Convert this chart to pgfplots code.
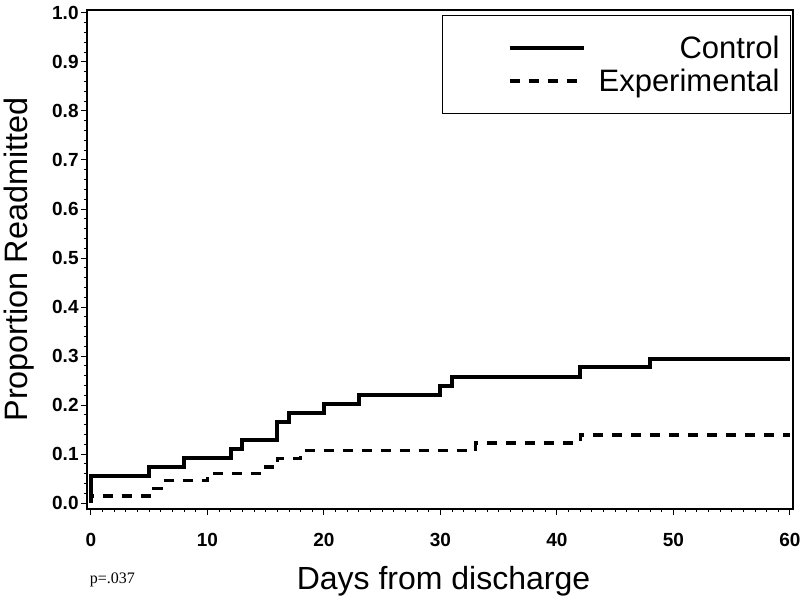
\documentclass[border=0pt]{standalone}
\usepackage{pgfplots}
\pgfplotsset{compat=1.18}
\usepackage{pgfplotstable}
\usepackage{fontspec}
\setmainfont{Liberation Sans}
\newfontfamily\serifp{Liberation Serif}

\pgfplotstableread{
day prop
0 0
0 0.055
5 0.073
8 0.0925
12 0.110
13 0.129
16 0.165
17 0.184
20 0.203
23 0.220
30 0.239
31 0.2565
42 0.277
48 0.293
60 0.293
}\control

\pgfplotstableread{
day prop
0 0
0 0.0143
5 0.030
6 0.0456
10 0.0605
15 0.074
16 0.091
18 0.107
33 0.123
42 0.139
60 0.139
}\experimental

\begin{document}
\begin{tikzpicture}
\begin{axis}[
  name=ax,
  scale only axis,
  width=353pt, height=249.5pt,
  xmin=-0.34, xmax=60.26,
  ymin=-0.012, ymax=1.006,
  xtick={0,10,20,30,40,50,60},
  ytick={0,0.1,0.2,0.3,0.4,0.5,0.6,0.7,0.8,0.9,1.0},
  minor x tick num=9,
  minor y tick num=4,
  tick align=outside,
  xtick pos=bottom, ytick pos=left,
  major tick length=3pt,
  minor tick length=1.5pt,
  tick style={black, line width=0.5pt},
  axis line style={line width=0.6pt},
  /pgf/number format/assume math mode=true,
  ticklabel style={font=\bfseries\fontsize{9.5}{10}\selectfont},
  yticklabel style={/pgf/number format/.cd, fixed, fixed zerofill, precision=1, /tikz/.cd, inner xsep=1pt},
  xticklabel style={yshift=-5.5pt},
  legend style={at={(axis description cs:1,1)}, anchor=north east, xshift=-1pt, yshift=-2.5pt,
    draw=black, line width=0.5pt, inner xsep=0pt, inner ysep=9.25pt, row sep=2.5pt, column sep=0pt,
    font=\fontsize{15.5}{18}\selectfont,
    nodes={inner xsep=5.5pt, inner ysep=0pt, text height=12.5pt, text depth=1.5pt}},
  legend cell align=right,
  legend image code/.code={\path (-5.5pt,0pt) (65pt,0pt); \draw[#1] (27pt,0pt) -- (64pt,0pt);},
]
\addplot[const plot, black, line width=2pt] table[x=day, y=prop] {\control};
\addlegendentry{Control}
\addplot[const plot, black, line width=1.7pt, dash pattern=on 5pt off 4.5pt] table[x=day, y=prop] {\experimental};
\addlegendentry{Experimental}
\end{axis}
\node[rotate=90, anchor=base, font=\fontsize{16.2}{18}\selectfont] at ([xshift=-29.5pt]ax.west) {Proportion Readmitted};
\node[anchor=base, font=\fontsize{16}{18}\selectfont] at ([xshift=1.75pt, yshift=-40pt]ax.south) {Days from discharge};
\node[anchor=base west, inner sep=0pt, font=\serifp\fontsize{8}{10}\selectfont] at ([xshift=1.25pt, yshift=-37pt]ax.south west) {p=.037};
\pgfresetboundingbox
\path ([xshift=-43.5pt, yshift=-47pt]ax.south west) rectangle ([xshift=3.5pt, yshift=5pt]ax.north east);
\end{tikzpicture}
\end{document}
